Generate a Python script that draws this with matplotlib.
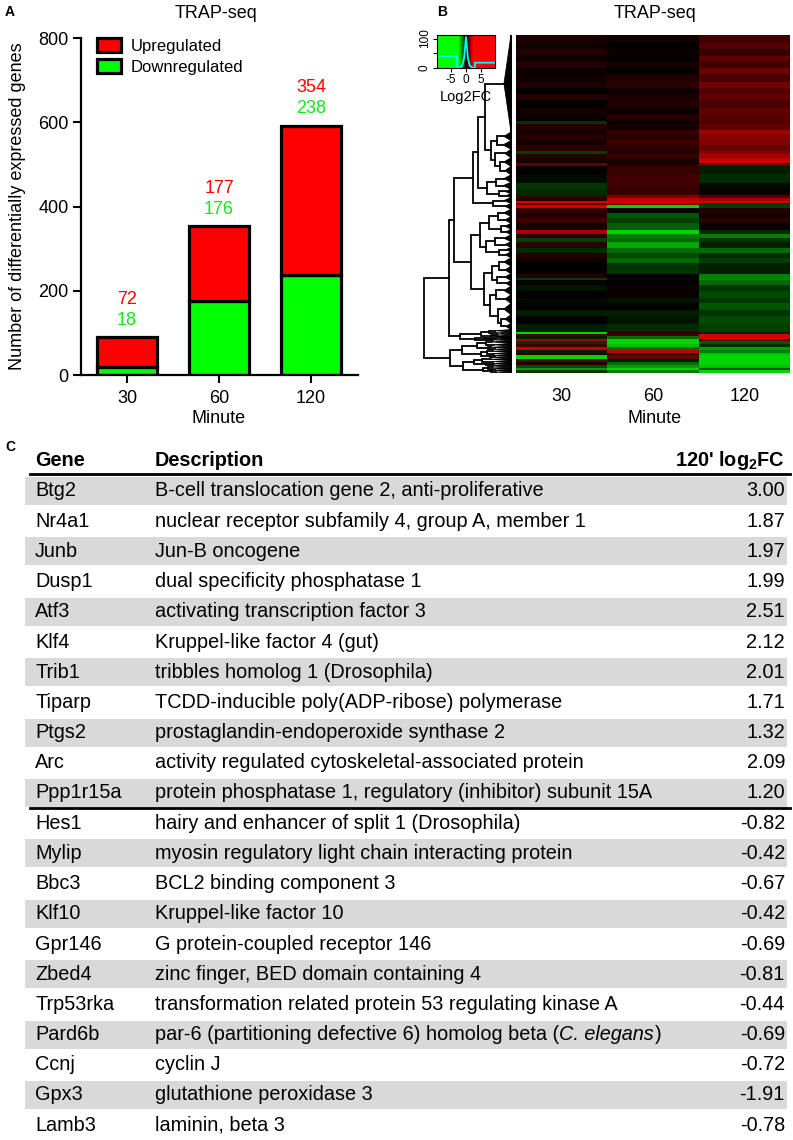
import numpy as np
import matplotlib
matplotlib.use("Agg")
import matplotlib.pyplot as plt
from matplotlib import font_manager as fm
from matplotlib.colors import LinearSegmentedColormap, Normalize
from matplotlib.patches import Rectangle, Polygon

# ---------------- data ----------------
minutes = ["30", "60", "120"]
upregulated = [72, 177, 354]
downregulated = [18, 176, 238]

# heatmap bands (top to bottom): (number of genes, log2FC 30', 60', 120')
heatmap_bands = [
    (14, 0.25, 0.15, 0.6), (10, 0.15, 0.05, 0.8), (12, 0.3, 0.1, 0.5),
    (10, 0.1, 0.0, 0.9), (12, 0.35, 0.2, 0.6), (10, 0.1, 0.05, 1.0),
    (14, 0.15, 0.3, 0.7), (10, 0.3, 0.4, 1.1), (12, 0.05, 0.15, 0.8),
    (10, 0.35, 0.25, 0.9), (14, 0.05, 0.3, 0.7), (10, 0.2, 0.1, 0.9),
    (12, 0.1, 0.35, 0.8), (6, -0.5, 0.1, 0.7), (10, 0.3, 0.2, 0.9),
    (8, 0.2, 0.5, 1.5), (10, 0.35, 0.4, 1.3), (9, 0.2, 0.6, 1.2),
    (10, 0.4, 0.4, 1.0), (5, -0.6, 0.3, 1.3), (10, 0.3, 0.5, 1.6),
    (6, 0.2, 0.2, 2.0), (5, 0.9, 0.3, 1.0),
    (15, 0.05, 0.5, -0.3), (15, -0.1, 0.6, -0.4),
    (11, -0.5, 0.6, -0.1), (10, -0.4, 0.5, 0.1),
    (5, 0.6, 1.2, 0.8), (6, 0.3, 1.8, 1.6), (4, 2.0, 2.0, 2.0),
    (3, 0.8, 1.2, -0.5), (5, 2.0, -2.0, -0.6),
    (8, 0.5, 0.0, 0.3), (10, 0.3, -0.8, 0.2), (8, 0.6, -0.6, 0.4),
    (12, 0.2, -0.9, 0.1),
    (7, 1.6, -2.0, -0.4), (7, 0.4, -1.2, -1.2),
    (8, -0.6, -1.0, -0.5), (10, 0.4, -1.6, -0.3), (8, -0.4, -1.0, -1.0),
    (10, 0.3, -0.7, -0.4), (8, 0.1, -1.0, -0.6),
    (20, 0.0, -0.5, -0.3),
    (6, 0.3, 0.0, -1.2), (4, -0.6, -0.1, -1.3), (9, 0.1, 0.05, -1.0),
    (10, -0.2, 0.1, -0.5), (12, 0.05, 0.1, -0.7), (10, -0.1, -0.2, -0.5),
    (12, 0.05, 0.05, -0.8), (10, -0.3, -0.3, -0.5), (14, 0.0, -0.2, -0.7),
    (14, -0.3, -0.4, -0.6),
    (3, -2.0, 0.4, -0.3), (5, 0.8, 0.6, 2.0), (4, -0.3, -1.0, 2.0),
    (4, 1.6, -2.0, 0.8), (6, -0.5, -2.0, -0.8), (5, 0.6, -1.8, -0.4),
    (5, 1.8, -1.0, -1.5), (5, -0.3, 1.8, -1.2), (4, 0.4, 0.2, -1.8),
    (6, -2.0, 1.0, -2.0), (5, 0.8, -0.3, -2.0), (6, 0.3, -1.0, -2.0),
    (5, -0.7, -1.5, -1.8), (4, -1.5, -2.0, -0.8), (5, -0.5, -1.2, -2.0),
]

# gene dendrogram: node = (merge height, left, right); leaf cluster = (first gene, last gene, height)
dendro_A1a = (3.8,
              (3.3,
               (2.6, (0, 170, 0.7),
                (2.0, (1.4, (170, 185, 0.7), (185, 200, 0.8)),
                 (1.6, (200, 215, 0.6), (1.1, (215, 230, 0.7), (230, 245, 0.6))))),
               (2.4, (1.5, (245, 258, 0.7), (258, 270, 0.8)),
                (1.2, (270, 278, 0.6), (278, 285, 0.5)))),
              (1.8, (285, 295, 0.7), (295, 305, 0.6)))
dendro_A1b = (4.0,
              (3.1,
               (2.2, (1.3, (305, 318, 0.7), (318, 330, 0.6)),
                (1.0, (330, 340, 0.6), (340, 350, 0.5))),
               (2.5, (1.6, (350, 362, 0.7), (362, 372, 0.6)),
                (1.2, (372, 380, 0.5), (380, 390, 0.6)))),
              (2.7,
               (1.9, (1.2, (390, 405, 0.7), (405, 418, 0.6)),
                (1.4, (418, 430, 0.6), (430, 440, 0.5))),
               (2.1, (1.5, (440, 455, 0.7), (455, 470, 0.6)),
                (1.3, (470, 490, 0.7), (1.0, (490, 505, 0.6), (505, 516, 0.5))))))
dendro_A2 = (5.1,
             (3.0, (2.2, (516, 520, 1.6), (520, 524, 1.4)),
              (2.0, (524, 527, 1.3), (527, 529, 1.5))),
             (3.6, (2.6, (529, 531, 1.7), (531, 533, 1.5)), (533, 535, 1.8)))
dendro_B = (6.1,
            (4.9, (3.4, (2.5, (535, 540, 1.9), (540, 545, 1.7)),
                   (2.3, (545, 549, 2.0), (549, 552, 1.6))),
             (3.0, (2.4, (552, 556, 1.8), (556, 560, 1.7)),
              (2.1, (560, 563, 1.6), (563, 566, 1.8)))),
            (4.8, (3.7, (2.9, (566, 570, 2.0), (570, 574, 1.8)),
                   (2.5, (574, 577, 1.7), (577, 580, 1.9))),
             (2.8, (2.3, (580, 583, 1.8), (583, 586, 1.9)),
              (2.0, (586, 589, 1.6), (589, 592, 1.5)))))
gene_dendrogram = (8.7, (6.2, (5.7, dendro_A1a, dendro_A1b), dendro_A2), dendro_B)

# color key density trace
key_x = [-9.5, -3.0, -3.0, -2.2, -1.2, -0.6, 0.0, 0.6, 1.2, 2.2, 2.9, 2.9, 9.5]
key_density = [40, 40, 0, 0, 8, 35, 105, 35, 8, 0, 0, 18, 18]
key_ticks = [-5, 0, 5]

# table
genes = ["Btg2", "Nr4a1", "Junb", "Dusp1", "Atf3", "Klf4", "Trib1", "Tiparp",
         "Ptgs2", "Arc", "Ppp1r15a", "Hes1", "Mylip", "Bbc3", "Klf10", "Gpr146",
         "Zbed4", "Trp53rka", "Pard6b", "Ccnj", "Gpx3", "Lamb3"]
descriptions = [
    "B-cell translocation gene 2, anti-proliferative",
    "nuclear receptor subfamily 4, group A, member 1",
    "Jun-B oncogene",
    "dual specificity phosphatase 1",
    "activating transcription factor 3",
    "Kruppel-like factor 4 (gut)",
    "tribbles homolog 1 (Drosophila)",
    "TCDD-inducible poly(ADP-ribose) polymerase",
    "prostaglandin-endoperoxide synthase 2",
    "activity regulated cytoskeletal-associated protein",
    "protein phosphatase 1, regulatory (inhibitor) subunit 15A",
    "hairy and enhancer of split 1 (Drosophila)",
    "myosin regulatory light chain interacting protein",
    "BCL2 binding component 3",
    "Kruppel-like factor 10",
    "G protein-coupled receptor 146",
    "zinc finger, BED domain containing 4",
    "transformation related protein 53 regulating kinase A",
    "par-6 (partitioning defective 6) homolog beta (C. elegans)",
    "cyclin J",
    "glutathione peroxidase 3",
    "laminin, beta 3",
]
italic_terms = ["C. elegans"]
log2fc_120 = [3.00, 1.87, 1.97, 1.99, 2.51, 2.12, 2.01, 1.71, 1.32, 2.09, 1.20,
              -0.82, -0.42, -0.67, -0.42, -0.69, -0.81, -0.44, -0.69, -0.72,
              -1.91, -0.78]

# ---------------- fonts ----------------
def has_font(name):
    try:
        fm.findfont(fm.FontProperties(family=name), fallback_to_default=False)
        return True
    except Exception:
        return False

MAIN = "Liberation Sans" if has_font("Liberation Sans") else "DejaVu Sans"
TF = MAIN
plt.rcParams["font.family"] = [MAIN, "DejaVu Sans"]
plt.rcParams["mathtext.fontset"] = "custom"
plt.rcParams["mathtext.rm"] = TF
plt.rcParams["mathtext.it"] = TF + ":italic"
plt.rcParams["mathtext.bf"] = TF + ":bold"

W, H = 793, 1140
fig = plt.figure(figsize=(W / 100, H / 100), dpi=100)


def rect(x0, y0, x1, y1):
    return [x0 / W, 1 - y1 / H, (x1 - x0) / W, (y1 - y0) / H]


def ftext(x, y, s, **kw):
    fig.text(x / W, 1 - y / H, s, **kw)


RED = "#ff0000"
GREEN = "#00ff00"
GREEN_TXT = "#19e619"

# ---------------- Panel A ----------------
axA = fig.add_axes(rect(81, 38, 358, 375))
xpos = np.arange(len(minutes))
bw = 0.66
axA.bar(xpos, downregulated, width=bw, color=GREEN, edgecolor="black",
        linewidth=2.3, label="Downregulated", zorder=2)
axA.bar(xpos, upregulated, bottom=downregulated, width=bw, color=RED,
        edgecolor="black", linewidth=2.3, label="Upregulated", zorder=2)
for i in range(len(minutes)):
    tot = upregulated[i] + downregulated[i]
    axA.text(xpos[i], tot + 90, str(upregulated[i]), color=RED, ha="center",
             va="center", fontsize=13)
    axA.text(xpos[i], tot + 40, str(downregulated[i]), color=GREEN_TXT,
             ha="center", va="center", fontsize=13)
axA.set_xlim(-0.5, 2.51)
axA.set_ylim(0, 800)
axA.set_yticks([0, 200, 400, 600, 800])
axA.set_xticks(xpos)
axA.set_xticklabels(minutes)
axA.tick_params(labelsize=13, width=1.5, length=6)
axA.tick_params(axis="x", pad=4.5)
axA.tick_params(axis="y", pad=3)
for s in ["top", "right"]:
    axA.spines[s].set_visible(False)
for s in ["left", "bottom"]:
    axA.spines[s].set_linewidth(1.6)
h, l = axA.get_legend_handles_labels()
axA.legend(h[::-1], l[::-1], loc="upper left", bbox_to_anchor=(0.035, 1.02),
           frameon=False, fontsize=12, handlelength=1.4, handleheight=0.9,
           handletextpad=0.6, labelspacing=0.35, borderaxespad=0)
ftext(219, 419, "Minute", ha="center", va="center", fontsize=13)
ftext(18, 206, "Number of differentially expressed genes", rotation=90,
      ha="center", va="center", fontsize=13)
ftext(216, 14, "TRAP-seq", ha="center", va="center", fontsize=13)
ftext(10, 12, "A", ha="center", va="center", fontsize=10, fontweight="bold")

# ---------------- Panel B ----------------
cmap = LinearSegmentedColormap.from_list("gkr", [(0, 1, 0), (0, 0, 0), (1, 0, 0)])
norm = Normalize(vmin=-2.4, vmax=2.4)

counts = [b[0] for b in heatmap_bands]
vals = np.array([b[1:] for b in heatmap_bands])
mat = np.repeat(vals, counts, axis=0)
n_genes = mat.shape[0]

axB = fig.add_axes(rect(516, 35, 790, 373))
axB.imshow(mat, aspect="auto", cmap=cmap, norm=norm, interpolation="nearest")
axB.set_xticks(range(len(minutes)))
axB.set_xticklabels(minutes)
axB.set_yticks([])
axB.tick_params(axis="x", length=0, pad=11, labelsize=13)
for s in axB.spines.values():
    s.set_visible(False)
ftext(655, 419, "Minute", ha="center", va="center", fontsize=13)
ftext(655, 14, "TRAP-seq", ha="center", va="center", fontsize=13)
ftext(442, 12, "B", ha="center", va="center", fontsize=10, fontweight="bold")

# dendrogram
axD = fig.add_axes(rect(420, 35, 512, 373))


def draw_tree(ax, node):
    if not isinstance(node[1], tuple):
        start, end, hh = node
        mid = (start + end) / 2
        ax.add_patch(Polygon([[0, start], [hh, mid], [0, end]], closed=True,
                             fc="black", ec="black", lw=0.6))
        return mid, hh
    hh, left, right = node
    y1, h1 = draw_tree(ax, left)
    y2, h2 = draw_tree(ax, right)
    ax.plot([h1, hh, hh, h2], [y1, y1, y2, y2], color="black", lw=1.3,
            solid_joinstyle="miter")
    return (y1 + y2) / 2, hh


draw_tree(axD, gene_dendrogram)
axD.plot([0, 0], [0, n_genes], color="black", lw=1.5)
axD.set_xlim(9.1, -0.1)
axD.set_ylim(n_genes, 0)
axD.axis("off")

# color key
axK = fig.add_axes(rect(437, 35, 495, 68))
grad = np.linspace(key_x[0], key_x[-1], 300)[None, :]
axK.imshow(grad, aspect="auto", cmap=cmap, norm=norm,
           extent=[key_x[0], key_x[-1], 0, 112], interpolation="bilinear")
axK.plot(key_x, key_density, color="cyan", lw=1.3)
axK.set_xlim(key_x[0], key_x[-1])
axK.set_ylim(0, 112)
axK.set_xticks(key_ticks)
axK.set_xticklabels([str(t) for t in key_ticks])
axK.set_yticks([0, 50, 100])
axK.set_yticklabels(["0", "", "100"], rotation=90, va="center")
axK.tick_params(labelsize=8.5, length=3, width=0.8, pad=1.5)
for s in axK.spines.values():
    s.set_linewidth(0.8)
ftext(466, 97, "Log2FC", ha="center", va="center", fontsize=10.5)

# ---------------- Panel C: table ----------------
axT = fig.add_axes(rect(0, 430, W, H))
axT.set_xlim(0, W)
axT.set_ylim(H, 430)
axT.axis("off")

renderer = fig.canvas.get_renderer()
probe = axT.text(0, 0, descriptions[0], fontsize=10, family=TF)
wprobe = probe.get_window_extent(renderer).width
probe.remove()
tfs = 10 * 390 / wprobe


def text_run(x, y, s):
    """Draw s starting at x, with italic_terms set in italics."""
    parts = [(s, "normal")]
    for term in italic_terms:
        new = []
        for seg, st in parts:
            if st == "normal" and term in seg:
                a, b = seg.split(term, 1)
                new += [(a, "normal"), (term, "italic"), (b, "normal")]
            else:
                new.append((seg, st))
        parts = new
    inv = axT.transData.inverted()
    for seg, st in parts:
        if not seg:
            continue
        t = axT.text(x, y, seg, ha="left", va="center", fontsize=tfs,
                     family=TF, style=st)
        ext = t.get_window_extent(renderer)
        x = inv.transform((ext.x1, ext.y0))[0] + (1.5 if st == "italic" else 0)


row0, pitch = 491, 30.2
x_gene, x_desc, x_val = 35, 155, 785
first_down = next(i for i, v in enumerate(log2fc_120) if v < 0)
for i, (g, d, v) in enumerate(zip(genes, descriptions, log2fc_120)):
    y = row0 + i * pitch
    if i % 2 == 0:
        axT.add_patch(Rectangle((25, y - 14), 762, 28, fc="#d9d9d9", ec="none"))
    axT.text(x_gene, y, g, ha="left", va="center", fontsize=tfs, family=TF)
    text_run(x_desc, y, d)
    axT.text(x_val, y, f"{v:.2f}", ha="right", va="center", fontsize=tfs, family=TF)

hy = 461
axT.text(x_gene, hy, "Gene", ha="left", va="center", fontsize=tfs,
         family=TF, fontweight="bold")
axT.text(x_desc, hy, "Description", ha="left", va="center", fontsize=tfs,
         family=TF, fontweight="bold")
axT.text(x_val, hy, r"120' log$_\mathbf{2}$FC", ha="right", va="center",
         fontsize=tfs, family=TF, fontweight="bold")
axT.plot([30, 790], [474, 474], color="black", lw=2.0)
ysep = row0 + (first_down - 0.5) * pitch
axT.plot([30, 790], [ysep, ysep], color="black", lw=2.0)
ftext(10, 447, "C", ha="center", va="center", fontsize=10, fontweight="bold")

fig.savefig("out.png", dpi=100)
